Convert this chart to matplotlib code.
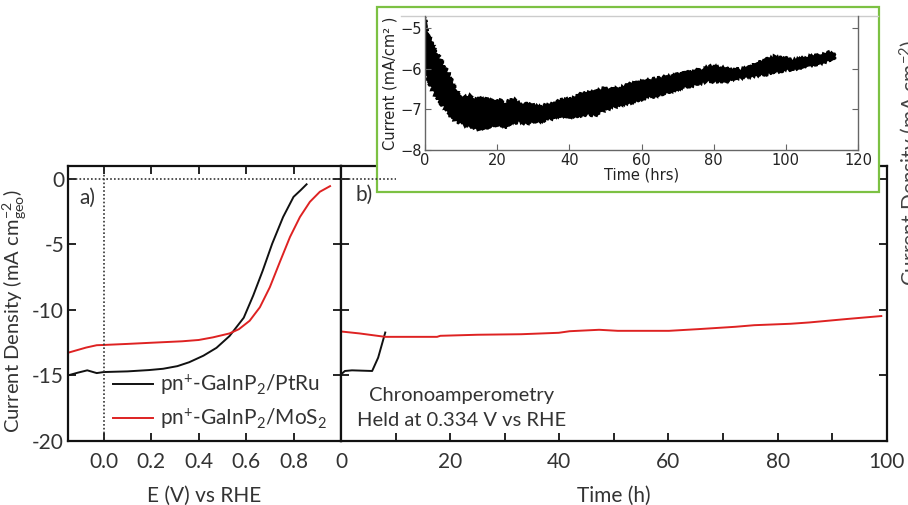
import matplotlib
matplotlib.use('Agg')
import matplotlib.pyplot as plt
from matplotlib.patches import Rectangle
from matplotlib.lines import Line2D
import numpy as np

# ---------------- data ----------------
# Panel a: linear sweep voltammetry
E_ptru = [-0.15, -0.11, -0.07, -0.03, 0.0, 0.10, 0.19, 0.25, 0.31, 0.36, 0.42,
          0.475, 0.53, 0.59, 0.63, 0.67, 0.71, 0.756, 0.80, 0.83, 0.855]
J_ptru = [-15.0, -14.8, -14.62, -14.83, -14.75, -14.7, -14.6, -14.5, -14.3, -14.0,
          -13.5, -12.9, -12.0, -10.6, -8.9, -7.0, -4.94, -2.9, -1.36, -0.85, -0.4]
E_mos2 = [-0.15, -0.075, -0.03, 0.0, 0.10, 0.19, 0.33, 0.40, 0.46, 0.53, 0.57,
          0.615, 0.658, 0.70, 0.742, 0.785, 0.827, 0.869, 0.911, 0.954]
J_mos2 = [-13.27, -12.88, -12.7, -12.68, -12.6, -12.52, -12.4, -12.3, -12.1, -11.8,
          -11.47, -10.83, -9.8, -8.27, -6.35, -4.43, -2.9, -1.74, -0.97, -0.54]

# Panel b: chronoamperometry
t_ptru = [0, 0.7, 2.0, 5.7, 6.8, 8.1]
j_ptru = [-14.93, -14.67, -14.62, -14.67, -13.65, -11.73]
t_mos2 = [0, 3.4, 8.1, 17.6, 18.2, 25, 33, 39.9, 41.9, 47.3, 50.7, 60.1, 65.5,
          72.3, 75.7, 82.4, 85.8, 92.6, 99]
j_mos2 = [-11.65, -11.8, -12.06, -12.06, -11.98, -11.9, -11.86, -11.75, -11.63,
          -11.52, -11.6, -11.6, -11.47, -11.29, -11.17, -11.06, -10.96, -10.7, -10.47]

# Inset: long-term current, noisy band given by its upper and lower envelopes
t_upper = [0, 0.7, 1.7, 3.2, 4.2, 5.5, 6.9, 7.8, 8.7, 9.6, 11.1, 12.5, 13.4, 14.8,
           16.2, 17.5, 18.9, 20.8, 22.2, 23.5, 24.9, 26.3, 28.2, 30, 31.9, 33.7,
           35.5, 37.4, 39.2, 41.5, 43.8, 46.1, 48.9, 51.6, 54.4, 57.2, 59.9, 62.7,
           65.4, 68.2, 71, 73.7, 76.5, 79.2, 81.7, 84.5, 87.3, 90, 92.8, 93.7, 95.4,
           97.4, 99.7, 101, 103.8, 106.6, 109.3, 111.2, 113, 113.6]
i_upper = [-4.71, -5.12, -5.37, -5.62, -5.78, -5.99, -6.19, -6.4, -6.56, -6.67,
           -6.7, -6.67, -6.77, -6.7, -6.78, -6.75, -6.81, -6.78, -6.89, -6.78, -6.77,
           -6.89, -6.85, -6.91, -6.95, -6.89, -6.83, -6.78, -6.77, -6.72, -6.6,
           -6.59, -6.5, -6.52, -6.45, -6.37, -6.32, -6.27, -6.23, -6.19, -6.13,
           -6.07, -6.03, -5.95, -5.96, -6.01, -6.03, -5.96, -5.85, -5.8, -5.74,
           -5.7, -5.74, -5.78, -5.77, -5.7, -5.66, -5.6, -5.64, -5.7]
t_lower = [0, 0.9, 2.3, 3.7, 5.1, 6.5, 7.8, 9.2, 10.6, 12.5, 13.9, 15.2, 16.6, 18.5,
           20.3, 22.2, 24, 25.9, 27.7, 29.5, 31.4, 33.2, 35.1, 36.9, 39.2, 41.5,
           44.3, 47.1, 49.8, 52.6, 55.4, 58.1, 60.9, 63.7, 66.4, 69.2, 71.9, 74.7,
           77.5, 80.2, 84.5, 87.3, 90, 92.8, 95.1, 97.4, 100.2, 102.9, 105.7, 108.5,
           111.2, 113.2]
i_lower = [-6.03, -6.27, -6.56, -6.77, -6.93, -7.09, -7.22, -7.32, -7.38, -7.41,
           -7.44, -7.52, -7.44, -7.42, -7.38, -7.44, -7.34, -7.3, -7.34, -7.32,
           -7.3, -7.26, -7.22, -7.18, -7.16, -7.19, -7.11, -7.14, -7.01, -6.93,
           -6.86, -6.81, -6.72, -6.67, -6.6, -6.52, -6.45, -6.4, -6.32, -6.31,
           -6.29, -6.23, -6.19, -6.15, -6.13, -6.07, -6.03, -5.99, -5.93, -5.88,
           -5.82, -5.76]

a_xticks = [0.0, 0.2, 0.4, 0.6, 0.8]
a_yticks = [0, -5, -10, -15, -20]
b_xticks = [0, 20, 40, 60, 80, 100]
b_xminor = [10, 30, 50, 70, 90]
in_xticks = [0, 20, 40, 60, 80, 100, 120]
in_yticks = [-5, -6, -7, -8]

labels = ['pn$^{+}$-GaInP$_2$/PtRu', 'pn$^{+}$-GaInP$_2$/MoS$_2$']

# ---------------- style ----------------
MAIN_FONT = 'Lato'
plt.rcParams['font.family'] = [MAIN_FONT, 'DejaVu Sans']
plt.rcParams['axes.unicode_minus'] = False
plt.rcParams['mathtext.fontset'] = 'custom'
plt.rcParams['mathtext.rm'] = MAIN_FONT
plt.rcParams['mathtext.it'] = MAIN_FONT + ':italic'
plt.rcParams['mathtext.bf'] = MAIN_FONT + ':bold'

BLACK = '#111111'
RED = '#de2222'
TXT = '#333333'
FS = 15

fig = plt.figure(figsize=(9.08, 5.05), dpi=100)

axa = fig.add_axes([0.0752, 0.1273, 0.3003, 0.5440])
axb = fig.add_axes([0.3756, 0.1273, 0.6010, 0.5440])

for ax in (axa, axb):
    for s in ax.spines.values():
        s.set_linewidth(1.6)
        s.set_color(BLACK)
    ax.set_ylim(-20, 1)
    ax.tick_params(which='both', direction='in', length=6, width=1.2,
                   top=True, right=True, labelsize=FS, labelcolor=TXT, pad=8)

# ---- panel a ----
axa.plot(E_ptru, J_ptru, color=BLACK, lw=1.4, label=labels[0])
axa.plot(E_mos2, J_mos2, color=RED, lw=1.4, label=labels[1])
axa.axhline(0, color='#333333', lw=1.2, ls=(0, (1, 1.3)))
axa.axvline(0, color='#333333', lw=1.2, ls=(0, (1, 1.3)))
axa.set_xlim(-0.15, 1.0)
axa.set_xticks(a_xticks)
axa.set_xticklabels([f'{v:.1f}' for v in a_xticks])
axa.set_yticks(a_yticks)
axa.set_yticklabels([f'{v:d}' for v in a_yticks])
axa.tick_params(axis='y', pad=3)
axa.set_xlabel('E (V) vs RHE', fontsize=FS, color=TXT, labelpad=10)
axa.set_ylabel('Current Density (mA cm$^{-2}_{\\mathrm{geo}}$)', fontsize=FS - 0.5,
               color=TXT)
axa.yaxis.set_label_coords(-0.145, 0.47)
axa.text(0.04, 0.883, 'a)', transform=axa.transAxes, fontsize=FS, color=TXT,
         ha='left', va='center')
leg = axa.legend(loc='lower left', bbox_to_anchor=(0.165, 0.035), frameon=False,
                 fontsize=FS, handlelength=1.9, handletextpad=0.35,
                 labelspacing=0.45, borderaxespad=0, borderpad=0)
for t in leg.get_texts():
    t.set_color(TXT)

# ---- panel b ----
axb.plot(t_ptru, j_ptru, color=BLACK, lw=1.4)
axb.plot(t_mos2, j_mos2, color=RED, lw=1.4)
axb.set_xlim(0, 100)
axb.set_xticks(b_xticks)
axb.set_xticks(b_xminor, minor=True)
axb.set_yticks(a_yticks)
axb.tick_params(axis='y', labelleft=False)
axb.tick_params(which='minor', length=6)
axb.set_xlabel('Time (h)', fontsize=FS, color=TXT, labelpad=10)
axb.text(0.026, 0.894, 'b)', transform=axb.transAxes, fontsize=FS, color=TXT,
         ha='left', va='center')
axb.text(0.052, 0.163, 'Chronoamperometry', transform=axb.transAxes,
         fontsize=FS - 0.5, color=TXT, ha='left', va='center')
axb.text(0.030, 0.072, 'Held at 0.334 V vs RHE', transform=axb.transAxes,
         fontsize=FS - 0.5, color=TXT, ha='left', va='center')

# dotted zero line continuing into panel b, drawn above the inset box
zero_line = Line2D([0, 0.1], [0, 0], transform=axb.get_yaxis_transform(),
                   color='#333333', lw=1.2, ls=(0, (1, 1.3)), zorder=10)
fig.add_artist(zero_line)

# partial label of a further panel at the right edge
fig.text(1.004, 0.677, 'Current Density (mA cm$^{-2}$)', rotation=90,
         fontsize=FS, color='#444444', ha='center', va='center')

# ---- inset ----
box = Rectangle((0.4147, 0.6204), 0.5534, 0.3663, transform=fig.transFigure,
                facecolor='white', edgecolor='#7cc143', lw=1.6, zorder=5)
fig.add_artist(box)

axi = fig.add_axes([0.4681, 0.7030, 0.4769, 0.2659], zorder=6)
band_t = np.concatenate([t_upper, t_lower[::-1]])
band_i = np.concatenate([i_upper, i_lower[::-1]])
poly = axi.fill(band_t, band_i, facecolor='black', edgecolor='black', lw=1.6)[0]
poly.set_sketch_params(scale=1.6, length=2.5, randomness=3)
axi.set_xlim(0, 120)
axi.set_ylim(-8, -4.7)
axi.set_xticks(in_xticks)
axi.set_xticklabels([str(v) for v in in_xticks])
axi.set_yticks(in_yticks)
axi.set_yticklabels([f'\u2212{abs(v)}' for v in in_yticks])
for s in axi.spines.values():
    s.set_color('#666666')
    s.set_linewidth(1.0)
axi.spines['top'].set_visible(False)
top_line = Line2D([-0.055, 1.046], [1, 1], transform=axi.transAxes,
                  color='#cccccc', lw=1.0, clip_on=False)
axi.add_line(top_line)
axi.tick_params(which='both', direction='in', length=4, width=0.8,
                color='#666666', top=False, right=True, labelsize=10.5,
                labelcolor='#222222', pad=2)
for lab in axi.get_xticklabels() + axi.get_yticklabels():
    lab.set_family('DejaVu Sans')
axi.set_xlabel('Time (hrs)', fontsize=10.5, family='DejaVu Sans',
               color='#222222', labelpad=0)
axi.set_ylabel('Current (mA/cm\u00b2 )', fontsize=10.5, family='DejaVu Sans',
               color='#222222', labelpad=2)

fig.savefig('out.png', dpi=100)
